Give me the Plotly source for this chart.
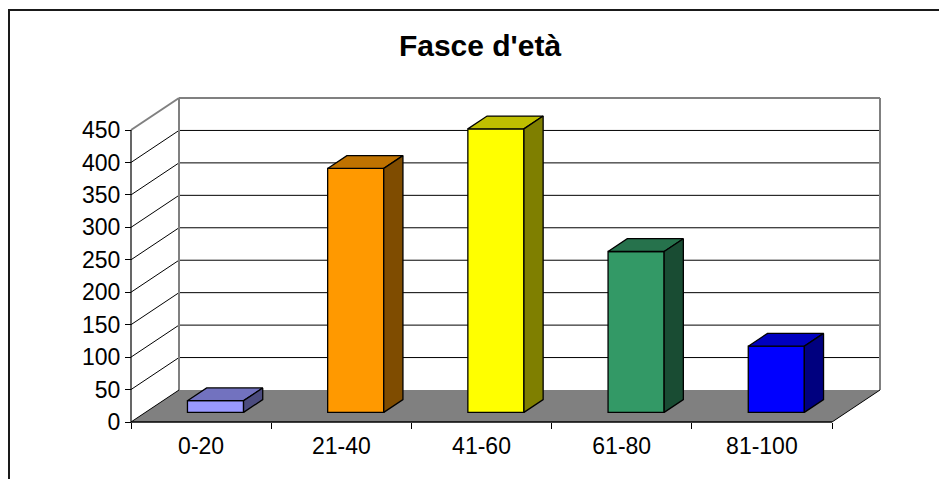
import plotly.graph_objects as go

# ---------------- data ----------------
categories = ["0-20", "21-40", "41-60", "61-80", "81-100"]
values = [18, 376, 437, 248, 102]
front_colors = ["#9999FF", "#FF9900", "#FFFF00", "#339966", "#0000FF"]
y_ticks = [0, 50, 100, 150, 200, 250, 300, 350, 400, 450]
title_text = "Fasce d'età"

# ---------------- geometry (pixels -> data units) ----------------
W, H = 939, 479
X_FRONT_LEFT_PX = 131      # pixel of x = -0.5 on the front plane
Y_FRONT_ZERO_PX = 422      # pixel of y = 0 on the front plane
PX_PER_CAT = 140.2
YMAX = 450
PX_PER_UNIT = (422 - 130) / YMAX
DEPTH_PX_X, DEPTH_PX_Y = 48, 32
DX = DEPTH_PX_X / PX_PER_CAT          # depth offset in x units
DY = DEPTH_PX_Y / PX_PER_UNIT         # depth offset in y units
PAD = 3                               # px padding around plot region
BAR_W = 0.4                           # gap width 150%
FRONT_D, BACK_D = 0.3, 0.7            # bar depth position (fraction of full depth)

n = len(categories)
x_lo = -0.5 - PAD / PX_PER_CAT
x_hi = n - 0.5 + DX + PAD / PX_PER_CAT
y_lo = -PAD / PX_PER_UNIT
y_hi = YMAX + DY + PAD / PX_PER_UNIT

plot_w = (x_hi - x_lo) * PX_PER_CAT
plot_h = (y_hi - y_lo) * PX_PER_UNIT
m_l = X_FRONT_LEFT_PX - PAD
m_b = H - (Y_FRONT_ZERO_PX + PAD)
m_r = W - m_l - plot_w
m_t = H - m_b - plot_h


def shade(hex_color, f):
    h = hex_color.lstrip("#")
    r, g, b = (int(h[i:i + 2], 16) for i in (0, 2, 4))
    return "#%02X%02X%02X" % (int(r * f), int(g * f), int(b * f))


fig = go.Figure()

# front faces (library bars)
fig.add_trace(go.Bar(
    x=[i + FRONT_D * DX for i in range(n)],
    y=values,
    base=FRONT_D * DY,
    width=BAR_W,
    marker=dict(color=front_colors, line=dict(color="black", width=1.3)),
    hoverinfo="skip",
))

# top and side faces
for i, (v, c) in enumerate(zip(values, front_colors)):
    xl = i - BAR_W / 2 + FRONT_D * DX
    xr = i + BAR_W / 2 + FRONT_D * DX
    ddx = (BACK_D - FRONT_D) * DX
    ddy = (BACK_D - FRONT_D) * DY
    yb = FRONT_D * DY
    yt = v + FRONT_D * DY
    fig.add_trace(go.Scatter(
        x=[xl, xr, xr + ddx, xl + ddx, xl],
        y=[yt, yt, yt + ddy, yt + ddy, yt],
        mode="lines", fill="toself", fillcolor=shade(c, 0.75),
        line=dict(color="black", width=1.3), hoverinfo="skip"))
    fig.add_trace(go.Scatter(
        x=[xr, xr + ddx, xr + ddx, xr, xr],
        y=[yb, yb + ddy, yt + ddy, yt, yb],
        mode="lines", fill="toself", fillcolor=shade(c, 0.5),
        line=dict(color="black", width=1.3), hoverinfo="skip"))

# ---------------- walls, floor, gridlines ----------------
shapes = []
xa, xb = -0.5, n - 0.5
# floor
shapes.append(dict(type="path", layer="below",
                   path=f"M {xa},0 L {xb},0 L {xb+DX},{DY} L {xa+DX},{DY} Z",
                   fillcolor="#808080", line=dict(width=0)))
# back wall
shapes.append(dict(type="rect", layer="below", x0=xa + DX, x1=xb + DX, y0=DY, y1=YMAX + DY,
                   fillcolor="white", line=dict(width=0)))
for v in y_ticks[1:-1]:
    shapes.append(dict(type="line", layer="below", x0=xa + DX, x1=xb + DX, y0=v + DY, y1=v + DY,
                       line=dict(color="black", width=1)))
    shapes.append(dict(type="line", layer="below", x0=xa, x1=xa + DX, y0=v, y1=v + DY,
                       line=dict(color="black", width=1)))
# grey wall edges
for (x0, y0, x1, y1) in [(xa + DX, YMAX + DY, xb + DX, YMAX + DY),
                         (xa + DX, DY, xa + DX, YMAX + DY),
                         (xb + DX, DY, xb + DX, YMAX + DY),
                         (xa, YMAX, xa + DX, YMAX + DY)]:
    shapes.append(dict(type="line", layer="below", x0=x0, x1=x1, y0=y0, y1=y1,
                       line=dict(color="#808080", width=2)))
# black floor edges and front axis line
for (x0, y0, x1, y1, w) in [(xa, 0, xa + DX, DY, 1),
                            (xb, 0, xb + DX, DY, 1),
                            (xa, 0, xb, 0, 1.5),
                            (xa, 0, xa, YMAX, 1.2)]:
    shapes.append(dict(type="line", layer="below", x0=x0, x1=x1, y0=y0, y1=y1,
                       line=dict(color="black", width=w)))

# chart border (right and bottom edges fall outside the visible window)
def px_x(p):
    return (p - m_l) / plot_w


def px_y(q):
    return (H - m_b - q) / plot_h


shapes.append(dict(type="rect", xref="paper", yref="paper",
                   x0=px_x(9), x1=px_x(960), y0=px_y(520), y1=px_y(10),
                   line=dict(color="#1a1a1a", width=2), fillcolor="rgba(0,0,0,0)"))

font_family = "Arial, Liberation Sans, sans-serif"

fig.update_layout(
    width=W, height=H, autosize=False,
    margin=dict(l=m_l, r=m_r, t=m_t, b=m_b, pad=0),
    paper_bgcolor="white", plot_bgcolor="white",
    showlegend=False,
    shapes=shapes,
    title=dict(text="<b>" + title_text + "</b>", x=480 / W, y=1 - 45 / H,
               xref="container", yref="container", xanchor="center", yanchor="middle",
               font=dict(family=font_family, size=30, color="black")),
    xaxis=dict(range=[x_lo, x_hi], showgrid=False, zeroline=False, showline=False,
               tickmode="array", tickvals=list(range(n)), ticktext=categories, ticks="",
               tickfont=dict(family=font_family, size=23, color="black"),
               ticklabelstandoff=8,
               minor=dict(tickmode="array", tickvals=[k - 0.5 for k in range(n + 1)],
                          ticks="outside", ticklen=6, tickcolor="black", tickwidth=1,
                          showgrid=False),
               anchor="free", position=PAD / plot_h, fixedrange=True),
    yaxis=dict(range=[y_lo, y_hi], showgrid=False, zeroline=False, showline=False,
               tickmode="array", tickvals=y_ticks, ticks="outside", ticklen=6,
               tickcolor="black", tickwidth=1,
               tickfont=dict(family=font_family, size=23, color="black"),
               anchor="free", position=PAD / plot_w, fixedrange=True),
)

fig.write_html("out.html", config={"displayModeBar": False},
               post_script="document.body.style.margin='0px';")
